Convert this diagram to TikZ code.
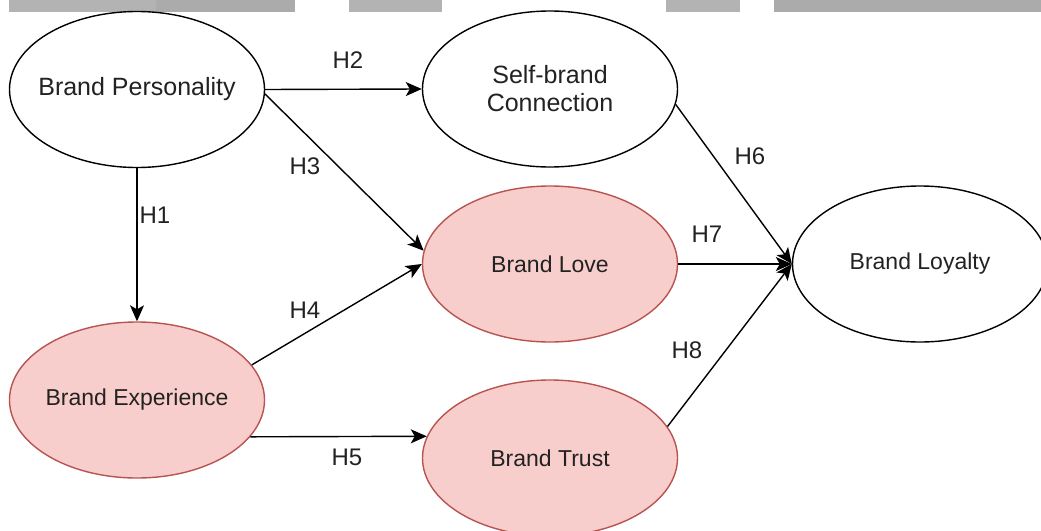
\documentclass[tikz,border=0pt]{standalone}
\usepackage{fontspec}
\setmainfont{Liberation Sans}
\usetikzlibrary{shapes.geometric,arrows.meta}
\definecolor{pinkfill}{HTML}{F8CECC}
\definecolor{pinkline}{HTML}{B85450}
\definecolor{bargray}{HTML}{ABABAB}
\definecolor{barlight}{HTML}{B3B3B3}
\definecolor{ink}{HTML}{222222}
\tikzset{
  construct/.style={ellipse, draw=black, fill=white, line width=1.4pt,
    minimum width=255pt, minimum height=156pt, inner xsep=-40pt, inner ysep=0pt,
    align=center, text=ink, font=\fontsize{23}{28}\selectfont},
  toprow/.style={font=\fontsize{25}{28}\selectfont},
  focal/.style={construct, draw=pinkline, fill=pinkfill},
  path/.style={line width=1.4pt, -{Stealth[length=16pt,width=14pt,inset=4pt]}},
  hyp/.style={font=\fontsize{24}{28}\selectfont, text=ink, inner sep=0pt}
}
\begin{document}
\begin{tikzpicture}[x=1pt,y=-1pt]
\useasboundingbox (0,0) rectangle (1041,530);
\clip (0,0) rectangle (1041,530);

% strip along the top edge
\fill[barlight] (9,0) rectangle (156,12);
\fill[bargray] (156,0) rectangle (295,12);
\fill[barlight] (349,0) rectangle (442,12);
\fill[barlight] (666,0) rectangle (740,12);
\fill[bargray] (774,0) rectangle (1041,12);

% constructs
\node[construct, toprow] (bp) at (137,89.5) {Brand Personality};
\node[construct, toprow] (sbc) at (550,89) {Self-brand\\Connection};
\node[focal] (love) at (550,264) {Brand Love};
\node[construct] (loy) at (920,264) {Brand Loyalty};
\node[focal] (be) at (137,400) {Brand Experience};
\node[focal] (trust) at (550,458) {Brand Trust};

% hypothesised paths
\draw[path] (bp.south) -- (be.north);
\draw[path] (bp.east) -- (sbc.west);
\draw[path] (bp.-2) -- (love.174);
\draw[path] (be.17) -- (love.west);
\draw[path] (be.-18) -- (trust.170);
\draw[path] (sbc.-7) -- (loy.west);
\draw[path] (love.east) -- (loy.west);
\draw[path] (trust.15) -- (loy.west);

% hypothesis labels
\node[hyp] (h1) at (155,215) {H1};
\node[hyp] (h2) at (348,60) {H2};
\node[hyp] (h3) at (305,166) {H3};
\node[hyp] (h4) at (305,310) {H4};
\node[hyp] (h5) at (347,457) {H5};
\node[hyp] (h6) at (750,156) {H6};
\node[hyp] (h7) at (707,234) {H7};
\node[hyp] (h8) at (687,350) {H8};
\end{tikzpicture}
\end{document}
